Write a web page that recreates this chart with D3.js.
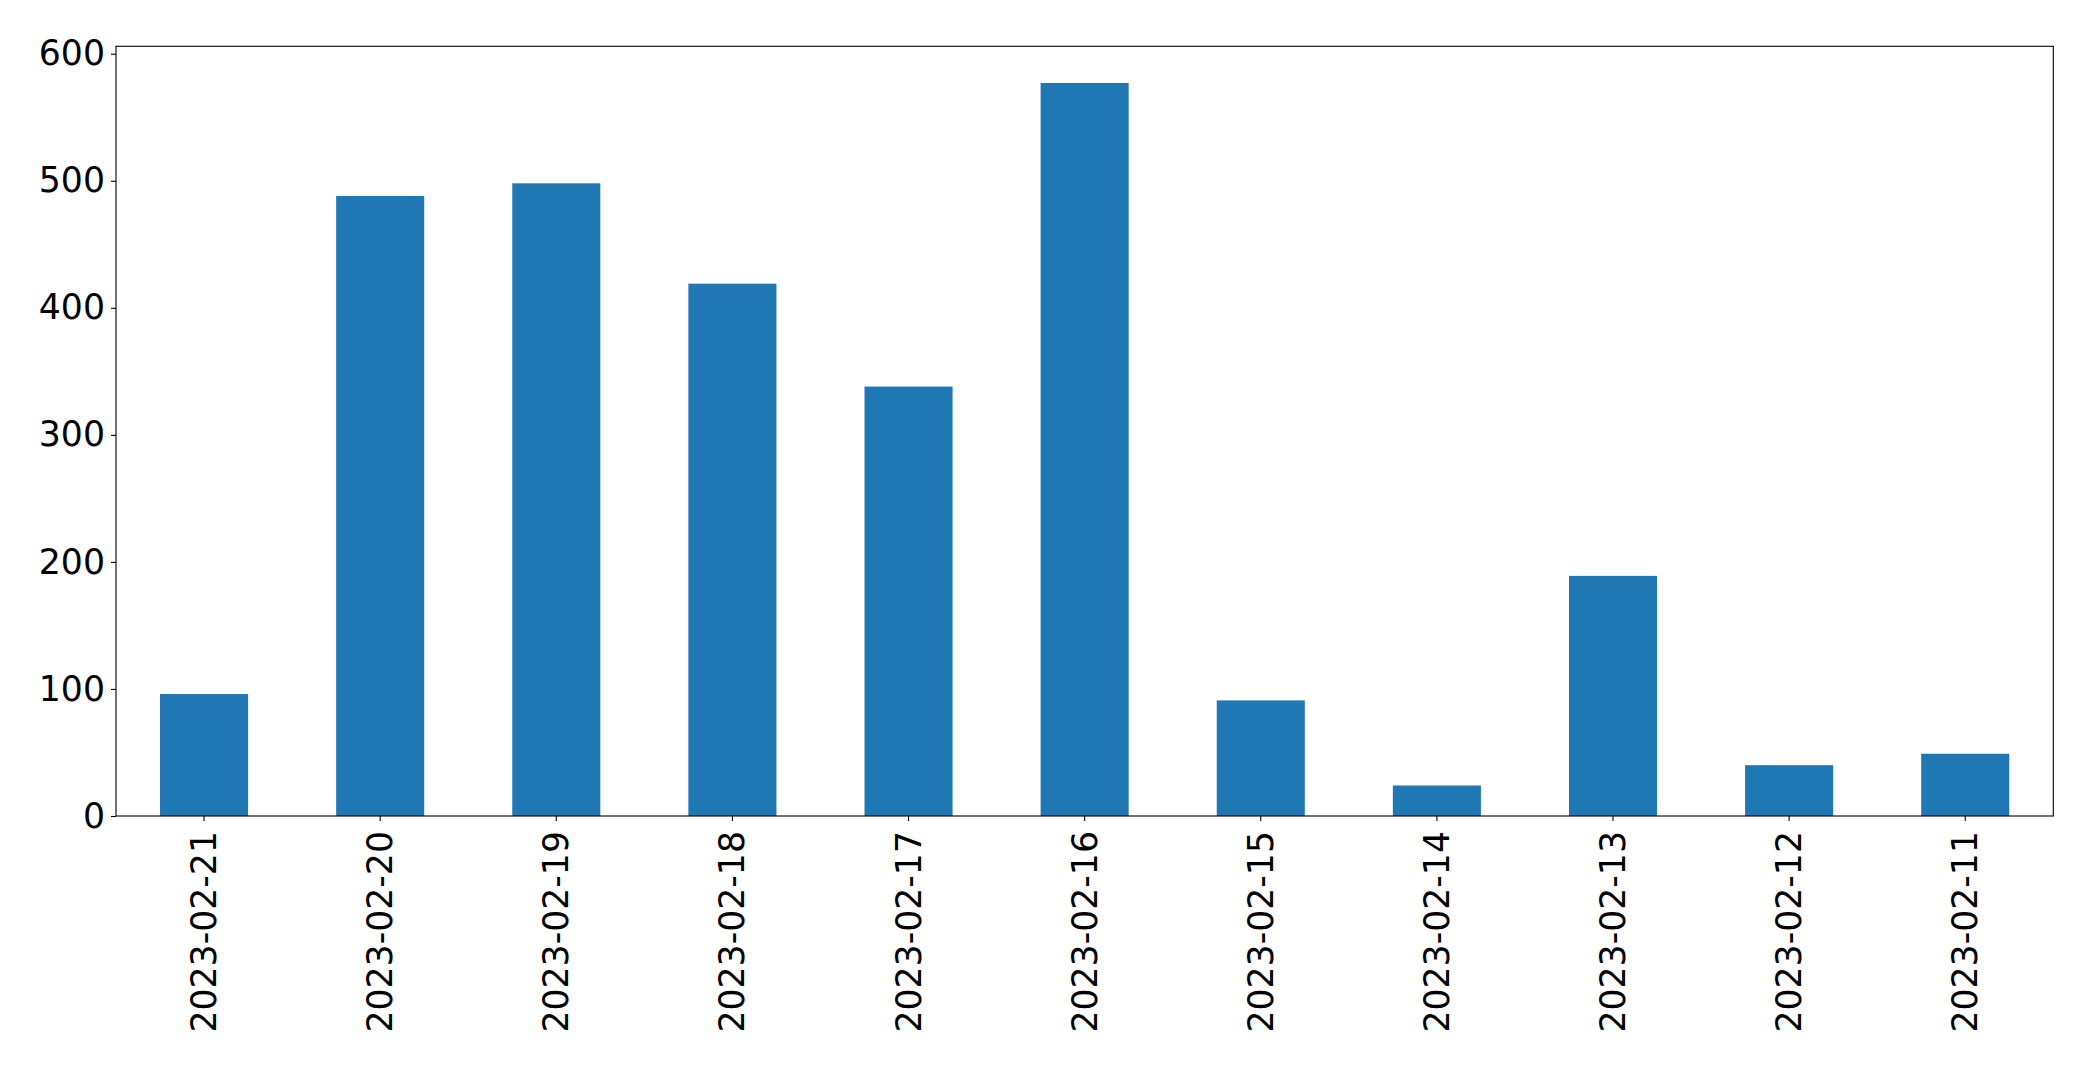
<!DOCTYPE html>
<html>
<head>
<meta charset="utf-8">
<script src="https://cdn.jsdelivr.net/npm/d3@7"></script>
<style>
  html, body { margin: 0; padding: 0; background: #fff; }
  svg { display: block; }
</style>
</head>
<body>
<svg id="chart" width="2093" height="1068"></svg>
<script>
const categories = ["2023-02-21","2023-02-20","2023-02-19","2023-02-18","2023-02-17","2023-02-16","2023-02-15","2023-02-14","2023-02-13","2023-02-12","2023-02-11"];
const values = [96, 488, 498, 419, 338, 577, 91, 24, 189, 40, 49];
const yTicks = [0, 100, 200, 300, 400, 500, 600];

const W = 2093, H = 1068;
const margin = { left: 116, top: 46.3, right: W - 2053.3, bottom: H - 816 };
const svg = d3.select("#chart");
const font = "'DejaVu Sans', sans-serif";
const fontSize = 34.7;

const x = d3.scaleBand()
  .domain(categories)
  .range([margin.left, W - margin.right])
  .paddingInner(0.5)
  .paddingOuter(0.25);

const yMax = d3.max(values) * 1.05;
const y = d3.scaleLinear()
  .domain([0, yMax])
  .range([H - margin.bottom, margin.top]);

svg.append("g")
  .selectAll("rect")
  .data(values)
  .join("rect")
  .attr("x", (d, i) => x(categories[i]))
  .attr("width", x.bandwidth())
  .attr("y", d => y(d))
  .attr("height", d => y(0) - y(d))
  .attr("fill", "#1f77b4");

// Y axis
const yAxis = svg.append("g")
  .attr("transform", `translate(${margin.left},0)`)
  .call(d3.axisLeft(y).tickValues(yTicks).tickSize(5).tickPadding(6).tickFormat(d3.format("d")));
yAxis.select(".domain").remove();
yAxis.selectAll("line").attr("stroke", "#000").attr("stroke-width", 1.1);
yAxis.selectAll("text")
  .attr("font-family", font)
  .attr("font-size", fontSize)
  .attr("fill", "#000");

// X axis
const xAxis = svg.append("g")
  .attr("transform", `translate(0,${H - margin.bottom})`)
  .call(d3.axisBottom(x).tickSize(5).tickPadding(0));
xAxis.select(".domain").remove();
xAxis.selectAll("line").attr("stroke", "#000").attr("stroke-width", 1.1);
xAxis.selectAll("text")
  .attr("font-family", font)
  .attr("font-size", fontSize)
  .attr("fill", "#000")
  .attr("y", 0)
  .attr("dy", null)
  .attr("text-anchor", "end")
  .attr("dominant-baseline", "central")
  .attr("transform", "translate(0,15) rotate(-90)");

// Frame
svg.append("rect")
  .attr("x", margin.left)
  .attr("y", margin.top)
  .attr("width", W - margin.right - margin.left)
  .attr("height", H - margin.bottom - margin.top)
  .attr("fill", "none")
  .attr("stroke", "#000")
  .attr("stroke-width", 1.1);
</script>
</body>
</html>
